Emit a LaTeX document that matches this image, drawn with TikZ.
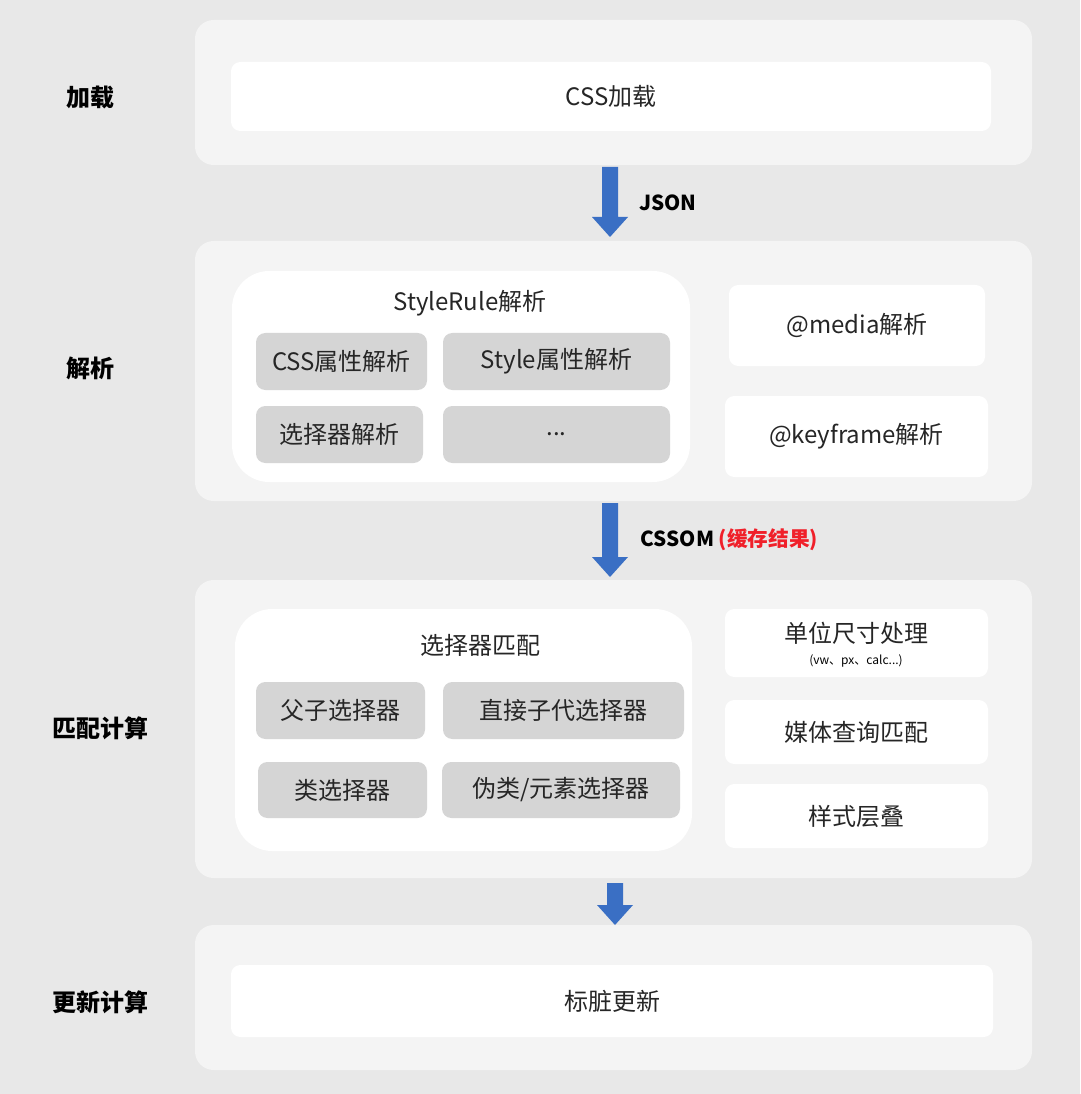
\documentclass[tikz,border=0pt]{standalone}
\usepackage{fontspec}
\setmainfont{Noto Sans CJK SC}
\usetikzlibrary{calc}
\definecolor{bg}{HTML}{E8E8E8}
\definecolor{panel}{HTML}{F4F4F4}
\definecolor{gbox}{HTML}{D5D5D5}
\definecolor{ablue}{HTML}{3A6FC4}
\definecolor{cred}{HTML}{F0202A}
\begin{document}
\begin{tikzpicture}[x=0.75pt,y=-0.75pt,
 panelbox/.style={fill=panel,rounded corners=14pt,draw=none},
 wbox/.style={fill=white,rounded corners=7pt,draw=none},
 bigw/.style={fill=white,rounded corners=28pt,draw=none},
 gb/.style={fill=gbox,rounded corners=7pt,draw=none},
 txt/.style={font=\fontsize{18}{21}\selectfont,text=black!85},
 lab/.style={font=\fontsize{18}{21}\selectfont\bfseries,text=black}]
\fill[bg] (0,0) rectangle (1080,1094);
\newcommand\bx[7]{\fill[#1] (#2,#3) rectangle (#4,#5); \node[txt] (#6) at ({(#2+#4)/2},{(#3+#5)/2}) {#7};}
\newcommand\barrow[3]{% x, ytop, ybot
 \fill[ablue] (#1-8,#2) -- (#1+8,#2) -- (#1+8,#3-20) -- (#1+18,#3-20) -- (#1,#3) -- (#1-18,#3-20) -- (#1-8,#3-20) -- cycle;}
% panels
\fill[panelbox] (195,20) rectangle (1032,165);
\fill[panelbox] (195,241) rectangle (1032,501);
\fill[panelbox] (195,580) rectangle (1032,878);
\fill[panelbox] (195,925) rectangle (1032,1070);
% left labels
\node[lab] (l1) at (90,98) {加载};
\node[lab] (l2) at (90,368) {解析};
\node[lab] (l3) at (100,728) {匹配计算};
\node[lab] (l4) at (100,1002) {更新计算};
% panel 1
\bx{wbox}{231}{62}{991}{131}{css}{CSS加载}
\barrow{610}{167}{237}
\node[lab,font=\fontsize{15.5}{18}\selectfont\bfseries] (json) at (668,203) {JSON};
% panel 2
\fill[bigw] (232,271) rectangle (690,482);
\node[txt] (sr) at (470,303) {StyleRule解析};
\bx{gb}{256}{333}{427}{390}{g1}{CSS属性解析}
\bx{gb}{443}{333}{670}{390}{g2}{Style属性解析}
\bx{gb}{256}{406}{423}{463}{g3}{选择器解析}
\bx{gb}{443}{406}{670}{463}{g4}{...}
\bx{wbox}{729}{285}{985}{366}{media}{@media解析}
\bx{wbox}{725}{396}{988}{477}{kf}{@keyframe解析}
\barrow{610}{503}{577}
\node[lab,font=\fontsize{15.5}{18}\selectfont\bfseries,anchor=west] (cssom) at (636,540) {CSSOM \textcolor{cred}{(缓存结果)}};
% panel 3
\fill[bigw] (235,609) rectangle (692,851);
\node[txt] (sm) at (480,645) {选择器匹配};
\bx{gb}{256}{682}{425}{739}{h1}{父子选择器}
\bx{gb}{443}{682}{684}{739}{h2}{直接子代选择器}
\bx{gb}{258}{762}{427}{818}{h3}{类选择器}
\bx{gb}{442}{762}{680}{818}{h4}{伪类/元素选择器}
\fill[wbox] (725,609) rectangle (988,677);
\node[txt] (unit) at (856,633) {单位尺寸处理};
\node[font=\fontsize{9}{10}\selectfont] (unitsub) at (856,661) {(vw、px、calc...)};
\bx{wbox}{725}{700}{988}{764}{mq}{媒体查询匹配}
\bx{wbox}{725}{784}{988}{848}{cas}{样式层叠}
\barrow{615}{883}{925}
% panel 4
\bx{wbox}{231}{965}{993}{1037}{dirty}{标脏更新}
\end{tikzpicture}
\end{document}
